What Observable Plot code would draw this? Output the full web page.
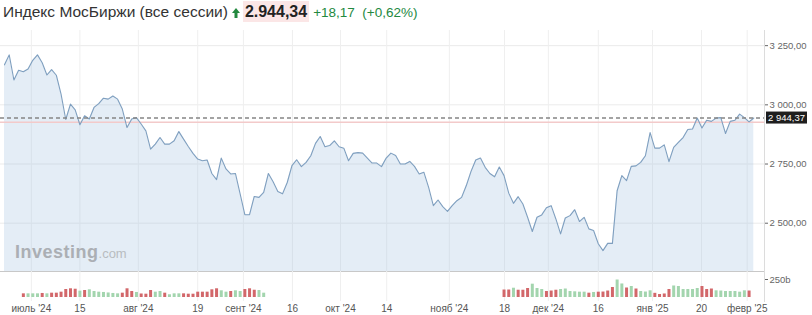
<!DOCTYPE html>
<html><head><meta charset="utf-8">
<script src="https://cdn.jsdelivr.net/npm/d3@7"></script>
<script src="https://cdn.jsdelivr.net/npm/@observablehq/plot@0.6"></script>
<style>
body{margin:0;background:#fff;font-family:"Liberation Sans",Arial,sans-serif;}
#wrap{position:relative;width:812px;height:315px;overflow:hidden;background:#fff;}
#title{height:30px;line-height:24px;white-space:nowrap;padding-left:3px;}
#title .name{font-size:15.5px;color:#333;}
#title .arr{display:inline-block;width:8px;height:10px;margin:0 3px 0 4px;vertical-align:-1px;}
#title .price{font-size:16px;font-weight:bold;color:#222;background:#fbe6e6;padding:2px 2px;}
#title .chg{font-size:13.5px;color:#23893f;margin-left:4px;}
#main,#vol{height:auto;line-height:0;}
#wm{position:absolute;left:15px;top:243px;font-size:18px;font-weight:bold;color:#abafb4;line-height:1;letter-spacing:0.5px;}
#wm span{font-size:13px;font-weight:normal;color:#b8bcc0;letter-spacing:0;}
</style></head><body>
<div id="wrap">
  <div id="title"><span class="name">Индекс МосБиржи (все сессии)</span><svg class="arr" viewBox="0 0 8 10"><path d="M4 0 L8 5 L5.5 5 L5.5 10 L2.5 10 L2.5 5 L0 5 Z" fill="#23893f"/></svg><span class="price">2.944,34</span><span class="chg">+18,17&nbsp; (+0,62%)</span></div>
  <div id="main"></div>
  <div id="vol"></div>
  <div id="wm">Investing<span>.com</span></div>
</div>
<script>
// Daily close values (one per trading session)
const prices = [3169,3211,3105,3146,3140,3151,3188,3211,3178,3126,
3149,3125,3045,2938,3003,2979,2916,2954,2940,2989,
3005,3028,3024,3037,3024,2982,2904,2940,2946,2919,
2890,2813,2834,2862,2834,2834,2848,2887,2855,2824,
2795,2771,2764,2767,2710,2684,2775,2729,2708,2710,
2624,2536,2536,2613,2609,2630,2710,2675,2634,2624,
2672,2743,2768,2739,2757,2785,2837,2866,2823,2828,
2848,2823,2817,2764,2795,2798,2796,2775,2754,2754,
2739,2775,2796,2786,2750,2750,2761,2740,2708,2715,
2651,2574,2598,2570,2550,2574,2595,2609,2659,2719,
2767,2775,2736,2710,2696,2737,2701,2627,2584,2612,
2581,2525,2465,2525,2535,2565,2574,2518,2455,2522,
2532,2557,2507,2525,2476,2469,2413,2384,2415,2415,
2637,2701,2680,2740,2742,2757,2785,2883,2817,2817,
2831,2760,2820,2841,2862,2896,2898,2944,2902,2935,
2930,2944,2946,2879,2930,2935,2961,2946,2928,2944.37];
const lastPrice = 2944.37;
const prevClose = 2926.17;

// Volume (billions), two available stretches, with direction (g = up, r = down)
const volStart1 = 4;
const volume1 = [51,51,51,51,56,51,60,60,74,111,121,115,88,97,107,83,74,70,63,56,
51,60,121,83,70,49,46,97,74,83,60,38,51,51,51,46,46,74,74,74,
107,121,93,74,83,93,83,111,121,101,97,60];
const volDir1 = "rgggrgrrrrrrgrgggggggrrrgrrrggrgggrrrrrrrrggrggrrrgg";
const volStart2 = 106;
const volume2 = [104,104,129,101,101,125,185,125,111,83,90,101,111,118,83,79,74,74,60,70,
74,76,90,139,243,188,132,153,118,83,76,93,58,42,49,111,160,153,111,111,
111,125,153,111,118,93,90,83,83,83,74,93,90];
const volDir2 = "rrgrrrgggrrrggggggrgrrrrggrgrgggrrrrggggggrrrgggggggrr";

// Axis ticks
const yTicks = [2500, 2750, 3000, 3250];
const volTicks = [250];
const xTickPos = [5.7, 16.0, 28.4, 41.0, 50.7, 61.1, 71.3, 81.1, 94.4, 106.1, 115.4, 126.0, 137.5, 147.9, 157.6];
const xTickLabels = ["июль '24","15","авг '24","19","сент '24","16","окт '24","14","нояб '24","18","дек '24","16","янв '25","20","февр '25"];

const rows = prices.map((v, i) => ({i, v}));
const volRows = [];
volume1.forEach((v, k) => volRows.push({i: volStart1 + k, v, up: volDir1[k] === "g"}));
volume2.forEach((v, k) => volRows.push({i: volStart2 + k, v, up: volDir2[k] === "g"}));

const ru = d3.formatLocale({decimal: ",", thousands: "\u00a0", grouping: [3]});
const fmt = ru.format(",.2f");
const labelMap = new Map(xTickPos.map((p, k) => [p, xTickLabels[k]]));
const FONT = '"Liberation Sans", Arial, sans-serif';
const X = {domain: [0, prices.length - 1], range: [4, 753.3]};

const main = Plot.plot({
  width: 812, height: 241,
  marginTop: 0, marginBottom: 0, marginLeft: 0, marginRight: 48,
  style: {fontFamily: FONT, fontSize: "9.5px", color: "#666", background: "transparent", overflow: "visible"},
  x: {...X, axis: null},
  y: {domain: [2296, 3314], axis: null},
  marks: [
    Plot.gridY(yTicks, {stroke: "#ebebeb", strokeOpacity: 1}),
    Plot.gridX(xTickPos, {stroke: "#efefef", strokeOpacity: 1}),
    Plot.areaY(rows, {x: "i", y: "v", fill: "#9bbcdc", fillOpacity: 0.27, clip: true}),
    Plot.ruleY([prevClose], {stroke: "#f3caca", strokeWidth: 1.5}),
    Plot.line(rows, {x: "i", y: "v", stroke: "#7f9fbf", strokeWidth: 1.1}),
    Plot.ruleY([lastPrice], {stroke: "#858585", strokeWidth: 1.3, strokeDasharray: "4,3"}),
    Plot.frame({anchor: "bottom", stroke: "#c8c8c8"}),
    Plot.frame({anchor: "right", stroke: "#dcdcdc"}),
    Plot.axisY(yTicks, {anchor: "right", label: null, tickSize: 3, tickPadding: 2, tickFormat: fmt, color: "#666"}),
    Plot.text([lastPrice], {y: d => d, frameAnchor: "right", dx: 22, text: d => fmt(d), fill: "white", fontSize: 9.5, textAnchor: "middle"})
  ]
});
document.getElementById("main").appendChild(main);

// dark box behind the last-price label
{
  const texts = main.querySelectorAll('g[aria-label="text"] text');
  const t = texts[texts.length - 1];
  if (t) {
    const b = t.getBBox();
    const r = document.createElementNS("http://www.w3.org/2000/svg", "rect");
    r.setAttribute("x", b.x - 2); r.setAttribute("y", b.y - 0.5);
    r.setAttribute("width", b.width + 4); r.setAttribute("height", b.height + 1);
    r.setAttribute("fill", "#1e1e1e");
    const tr = t.getAttribute("transform");
    if (tr) r.setAttribute("transform", tr);
    t.parentNode.insertBefore(r, t);
  }
}

const vol = Plot.plot({
  width: 812, height: 44,
  marginTop: 0, marginBottom: 14, marginLeft: 0, marginRight: 48,
  style: {fontFamily: FONT, fontSize: "10px", color: "#555", background: "transparent", overflow: "visible"},
  x: {...X, axis: null},
  y: {domain: [0, 250], range: [26, 8], axis: null},
  marks: [
    Plot.gridX(xTickPos, {stroke: "#efefef", strokeOpacity: 1}),
    Plot.ruleX(volRows, {filter: d => d.up, x: "i", y1: 0, y2: "v", stroke: "#a3d5ae", strokeWidth: 3}),
    Plot.ruleX(volRows, {filter: d => !d.up, x: "i", y1: 0, y2: "v", stroke: "#d2676a", strokeWidth: 3}),
    Plot.frame({anchor: "right", stroke: "#dcdcdc"}),
    Plot.axisX(xTickPos, {anchor: "bottom", label: null, tickSize: 0, tickPadding: 3, tickFormat: d => labelMap.get(d), color: "#555", fontSize: 10}),
    Plot.axisY(volTicks, {anchor: "right", label: null, tickSize: 3, tickPadding: 2, tickFormat: d => d + "b", color: "#666", fontSize: 9.5})
  ]
});
document.getElementById("vol").appendChild(vol);
</script>
</body></html>
